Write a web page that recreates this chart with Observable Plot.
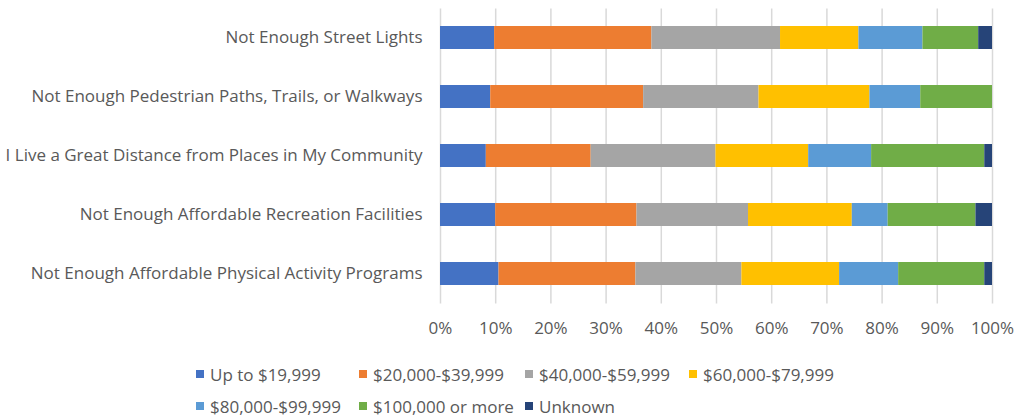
<!DOCTYPE html>
<html>
<head>
<meta charset="utf-8">
<script src="https://cdn.jsdelivr.net/npm/d3@7"></script>
<script src="https://cdn.jsdelivr.net/npm/@observablehq/plot@0.6"></script>
<style>
  html, body { margin: 0; padding: 0; background: #fff; }
  #wrap { position: relative; width: 1014px; height: 417px; font-family: "Open Sans", sans-serif; overflow: hidden; }
  #legend { position: absolute; left: 0; top: 0; width: 1014px; }
  .li { position: absolute; display: flex; align-items: center; font-size: 17px; color: #595959; white-space: nowrap; }
  .sw { width: 8px; height: 8px; margin-right: 6px; }
</style>
</head>
<body>
<div id="wrap"><div id="chart"></div><div id="legend"></div></div>
<script>
const categories = [
  "Not Enough Street Lights",
  "Not Enough Pedestrian Paths, Trails, or Walkways",
  "I Live a Great Distance from Places in My Community",
  "Not Enough Affordable Recreation Facilities",
  "Not Enough Affordable Physical Activity Programs"
];
const seriesNames = [
  "Up to $19,999", "$20,000-$39,999", "$40,000-$59,999", "$60,000-$79,999",
  "$80,000-$99,999", "$100,000 or more", "Unknown"
];
const seriesColors = ["#4472C4", "#ED7D31", "#A5A5A5", "#FFC000", "#5B9BD5", "#70AD47", "#264478"];
// percent values per series, one per category (in category order)
const upTo19999   = [9.8, 9.1, 8.3, 10.0, 10.6];
const s20to39     = [28.5, 27.7, 19.0, 25.6, 24.8];
const s40to59     = [23.3, 20.9, 22.6, 20.2, 19.2];
const s60to79     = [14.2, 20.1, 16.8, 18.8, 17.7];
const s80to99     = [11.6, 9.2, 11.4, 6.5, 10.7];
const s100plus    = [10.1, 13.0, 20.5, 15.9, 15.6];
const unknown     = [2.5, 0.0, 1.4, 3.0, 1.4];
const xTicks = [0, 10, 20, 30, 40, 50, 60, 70, 80, 90, 100];

const seriesValues = [upTo19999, s20to39, s40to59, s60to79, s80to99, s100plus, unknown];
const rows = [];
categories.forEach((c, i) => {
  seriesNames.forEach((s, j) => {
    rows.push({category: c, series: s, value: seriesValues[j][i]});
  });
});

const chart = Plot.plot({
  width: 1014,
  height: 345,
  marginLeft: 440,
  marginRight: 22,
  marginTop: 8.5,
  marginBottom: 41.5,
  style: {fontFamily: "Open Sans, sans-serif", fontSize: "17px", color: "#595959", background: "#fff", overflow: "visible"},
  x: {domain: [0, 100], axis: null, label: null},
  y: {domain: categories, axis: null, label: null, paddingInner: 0.61, paddingOuter: 0.305},
  color: {domain: seriesNames, range: seriesColors},
  marks: [
    Plot.ruleX(xTicks, {stroke: "#d9d9d9", strokeWidth: 1.5}),
    Plot.barX(rows, Plot.stackX({x: "value", y: "category", fill: "series", order: seriesNames})),
    Plot.axisX(xTicks, {tickSize: 0, tickPadding: 18, tickFormat: d => d + "%", fill: "#595959", fontSize: 17, label: null}),
    Plot.axisY({tickSize: 0, tickPadding: 18, fill: "#595959", fontSize: 17, label: null})
  ]
});
document.getElementById("chart").appendChild(chart);

// legend
const legendPos = [
  [196, 374], [359, 374], [525, 374], [689, 374],
  [196, 406], [359, 406], [525, 406]
];
const legend = document.getElementById("legend");
seriesNames.forEach((s, i) => {
  const el = document.createElement("div");
  el.className = "li";
  el.style.left = legendPos[i][0] + "px";
  el.style.top = (legendPos[i][1] - 12) + "px";
  el.style.height = "24px";
  const sw = document.createElement("span");
  sw.className = "sw";
  sw.style.background = seriesColors[i];
  const tx = document.createElement("span");
  tx.textContent = s;
  el.appendChild(sw); el.appendChild(tx);
  legend.appendChild(el);
});
</script>
</body>
</html>
